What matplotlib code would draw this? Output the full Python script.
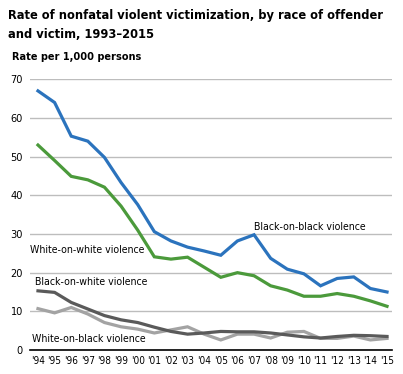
import matplotlib.pyplot as plt

# data (rate per 1,000 persons)
years = ["'94", "'95", "'96", "'97", "'98", "'99", "'00", "'01", "'02", "'03", "'04",
         "'05", "'06", "'07", "'08", "'09", "'10", "'11", "'12", "'13", "'14", "'15"]
black_on_black = [67, 64, 55.3, 54, 49.8, 43.3, 37.6, 30.6, 28.2, 26.6, 25.6,
                  24.5, 28.2, 29.8, 23.7, 20.9, 19.7, 16.6, 18.5, 18.9, 15.9, 15]
white_on_white = [53, 49, 44.9, 44, 42.1, 37.2, 31, 24.1, 23.5, 24, 21.4,
                  18.8, 20, 19.2, 16.6, 15.5, 13.9, 13.9, 14.6, 13.9, 12.7, 11.3]
black_on_white = [15.3, 14.9, 12.3, 10.6, 8.9, 7.8, 7.1, 5.9, 4.8, 4.1, 4.4,
                  4.8, 4.7, 4.7, 4.4, 3.9, 3.4, 3.1, 3.5, 3.8, 3.7, 3.5]
white_on_black = [10.7, 9.6, 11, 9.3, 7.1, 6, 5.4, 4.4, 5.2, 6, 4.1,
                  2.6, 4.1, 4.1, 3.1, 4.6, 4.8, 3, 3, 3.6, 2.6, 3]

plt.rcParams['font.family'] = ['DejaVu Sans']
plt.rcParams['font.stretch'] = 'condensed'

fig = plt.figure(figsize=(4.03, 3.74), dpi=100)
ax = fig.add_axes([30 / 403, 24 / 374, 362 / 403, 270.7 / 374])

x = list(range(len(years)))
ax.plot(x, white_on_black, color='#a3a3a3', lw=2.3, solid_joinstyle='miter')
ax.plot(x, black_on_white, color='#5a5a5a', lw=2.3, solid_joinstyle='miter')
ax.plot(x, white_on_white, color='#4b9a3b', lw=2.3, solid_joinstyle='miter')
ax.plot(x, black_on_black, color='#2b73bd', lw=2.3, solid_joinstyle='miter')

ax.set_xlim(-0.48, 21.3)
ax.set_ylim(0, 70)
ax.set_yticks(range(0, 71, 10))
ax.set_xticks(x)
ax.set_xticklabels(years)
ax.yaxis.grid(True, color='#bdbdbd', lw=1)
ax.set_axisbelow(True)
for s in ['top', 'right', 'left']:
    ax.spines[s].set_visible(False)
ax.spines['bottom'].set_color('black')
ax.spines['bottom'].set_linewidth(1.2)
ax.tick_params(axis='x', length=0, labelsize=7.2, colors='black', pad=4)
ax.tick_params(axis='y', length=0, labelsize=7.8, colors='black', pad=5)

lab = dict(fontsize=7.6, color='black', va='center')
ax.text(13.0, 31.8, 'Black-on-black violence', **lab)
ax.text(-0.5, 25.9, 'White-on-white violence', **lab)
ax.text(-0.15, 17.7, 'Black-on-white violence', **lab)
ax.text(-0.35, 2.9, 'White-on-black violence', **lab)

fig.text(8 / 403, 1 - 19 / 374, 'Rate of nonfatal violent victimization, by race of offender',
         fontsize=9.2, fontweight='bold', va='baseline')
fig.text(8 / 403, 1 - 38 / 374, 'and victim, 1993\u20132015',
         fontsize=9.2, fontweight='bold', va='baseline')
fig.text(12 / 403, 1 - 60 / 374, 'Rate per 1,000 persons', fontsize=7.8, fontweight='bold', va='baseline')

fig.savefig('out.png', dpi=100)
